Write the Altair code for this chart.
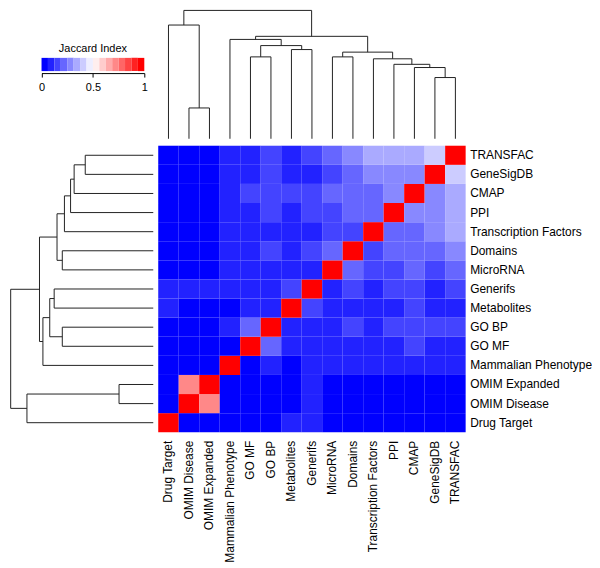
import altair as alt
import pandas as pd

# ---------------- data ----------------
names = ["Drug Target", "OMIM Disease", "OMIM Expanded", "Mammalian Phenotype",
         "GO MF", "GO BP", "Metabolites", "Generifs", "MicroRNA", "Domains",
         "Transcription Factors", "PPI", "CMAP", "GeneSigDB", "TRANSFAC"]

# Jaccard index matrix (rows/cols in the order of `names`)
j_drug_target   = [1.00, .02, .02, .02, .02, .02, .09, .09, .02, .02, .02, .02, .02, .02, .02]
j_omim_disease  = [.02, 1.00, .72, .02, .02, .02, .02, .09, .02, .02, .02, .02, .02, .02, .02]
j_omim_expanded = [.02, .72, 1.00, .02, .02, .02, .02, .09, .02, .02, .02, .02, .02, .02, .02]
j_mammalian     = [.02, .02, .02, 1.00, .02, .09, .02, .09, .09, .09, .09, .09, .09, .09, .09]
j_go_mf         = [.02, .02, .02, .02, 1.00, .22, .09, .09, .09, .09, .09, .09, .15, .09, .09]
j_go_bp         = [.02, .02, .02, .09, .22, 1.00, .09, .09, .09, .15, .09, .15, .15, .15, .15]
j_metabolites   = [.09, .02, .02, .02, .09, .09, 1.00, .15, .09, .09, .09, .09, .15, .09, .09]
j_generifs      = [.09, .09, .09, .09, .09, .09, .15, 1.00, .09, .15, .09, .15, .15, .09, .15]
j_microrna      = [.02, .02, .02, .09, .09, .09, .09, .09, 1.00, .22, .15, .15, .22, .15, .22]
j_domains       = [.02, .02, .02, .09, .09, .15, .09, .15, .22, 1.00, .15, .22, .22, .22, .28]
j_tf            = [.02, .02, .02, .09, .09, .09, .09, .09, .15, .15, 1.00, .22, .22, .28, .35]
j_ppi           = [.02, .02, .02, .09, .09, .15, .09, .15, .15, .22, .22, 1.00, .28, .28, .35]
j_cmap          = [.02, .02, .02, .09, .15, .15, .15, .15, .22, .22, .22, .28, 1.00, .28, .35]
j_genesigdb     = [.02, .02, .02, .09, .09, .15, .09, .09, .15, .22, .28, .28, .28, 1.00, .41]
j_transfac      = [.02, .02, .02, .09, .09, .15, .09, .15, .22, .28, .35, .35, .35, .41, 1.00]

matrix = [j_drug_target, j_omim_disease, j_omim_expanded, j_mammalian, j_go_mf,
          j_go_bp, j_metabolites, j_generifs, j_microrna, j_domains, j_tf, j_ppi,
          j_cmap, j_genesigdb, j_transfac]

# hclust-style merge table: negative = leaf (position+1), positive = earlier merge
merge_left   = [-2, -14, -13, -12, -11, -9, -5, 6, -7, 7, -4, 11, -1, 13]
merge_right  = [-3, -15, 2, 3, 4, -10, -6, 5, -8, 9, 10, 8, 1, 12]
merge_height = [0.24, 0.477, 0.555, 0.58, 0.623, 0.638, 0.638, 0.675, 0.695,
                0.726, 0.774, 0.798, 0.886, 1.0]

legend_ticks = [0, 0.5, 1]
n_bins = 16

# ---------------- styles ----------------
FONT = "Liberation Sans"


def ramp(i, n):
    t = i / (n - 1)
    if t <= 0.5:
        f = 2 * t
        r = g = round(255 * f)
        b = 255
    else:
        f = 2 * t - 1
        r = 255
        g = b = round(255 * (1 - f))
    return "#%02x%02x%02x" % (r, g, b)


colors = [ramp(i, n_bins) for i in range(n_bins)]
color_scale = alt.Scale(type="quantize", domain=[0, 1], range=colors)

# ---------------- tables ----------------
heat_df = pd.DataFrame([
    {"row": names[i], "col": names[j], "value": matrix[i][j]}
    for i in range(len(names)) for j in range(len(names))
])

mpos = []
segs = []


def node(k):
    if k < 0:
        return float(-k - 1), 0.0
    return mpos[k - 1], merge_height[k - 1]


for l, r, h in zip(merge_left, merge_right, merge_height):
    pl, hl = node(l)
    pr, hr = node(r)
    segs.append({"p1": pl, "p2": pl, "h1": hl, "h2": h})
    segs.append({"p1": pr, "p2": pr, "h1": hr, "h2": h})
    segs.append({"p1": pl, "p2": pr, "h1": h, "h2": h})
    mpos.append((pl + pr) / 2)
seg_df = pd.DataFrame(segs)

leg_df = pd.DataFrame({
    "start": [i / n_bins for i in range(n_bins)],
    "end": [(i + 1) / n_bins for i in range(n_bins)],
    "mid": [(i + 0.5) / n_bins for i in range(n_bins)],
})

# ---------------- sizes ----------------
HW, HH = 309, 288      # heatmap
DW, DH = 146, 130      # dendrogram thickness

pos_dom = [-0.5, len(names) - 0.5]

# ---------------- panels ----------------
heat = alt.Chart(heat_df).mark_rect().encode(
    x=alt.X("col:N", sort=names, title=None,
            scale=alt.Scale(paddingInner=0, paddingOuter=0),
            axis=alt.Axis(orient="bottom", labelAngle=-90, ticks=False, tickSize=0,
                          domain=False, labelPadding=8, labelFontSize=12,
                          labelFont=FONT, labelColor="black", labelLimit=300)),
    y=alt.Y("row:N", sort=names[::-1], title=None,
            scale=alt.Scale(paddingInner=0, paddingOuter=0),
            axis=alt.Axis(orient="right", ticks=False, tickSize=0, domain=False,
                          labelPadding=4, labelFontSize=12, labelFont=FONT,
                          labelColor="black", labelLimit=300)),
    color=alt.Color("value:Q", scale=color_scale, legend=None),
).properties(width=HW, height=HH)

top_dendro = alt.Chart(seg_df).mark_rule(color="#222222", strokeWidth=1).encode(
    x=alt.X("p1:Q", scale=alt.Scale(domain=pos_dom, nice=False, zero=False), axis=None),
    x2="p2:Q",
    y=alt.Y("h1:Q", scale=alt.Scale(domain=[0, 1], range=[DH, 1], nice=False, zero=False), axis=None),
    y2="h2:Q",
).properties(width=HW, height=DH)

left_dendro = alt.Chart(seg_df).mark_rule(color="#222222", strokeWidth=1).encode(
    y=alt.Y("p1:Q", scale=alt.Scale(domain=pos_dom, nice=False, zero=False), axis=None),
    y2="p2:Q",
    x=alt.X("h1:Q", scale=alt.Scale(domain=[0, 1], range=[DW, 2.7], nice=False, zero=False), axis=None),
    x2="h2:Q",
).properties(width=DW, height=HH)

leg_x = alt.Scale(domain=[0, 1], range=[33.7, 137], nice=False, zero=False)
legend_bar = alt.Chart(leg_df).mark_rect().encode(
    x=alt.X("start:Q", scale=leg_x, title=None,
            axis=alt.Axis(orient="bottom", values=legend_ticks, format="~g", offset=-(DH - 64),
                          tickSize=4, tickColor="black", domainColor="black",
                          labelFontSize=11, labelFont=FONT, labelColor="black",
                          labelPadding=4, labelFlush=False, grid=False)),
    x2="end:Q",
    y=alt.value(48.7),
    y2=alt.value(62),
    color=alt.Color("mid:Q", scale=color_scale, legend=None),
)
legend_title = alt.Chart(pd.DataFrame({"t": ["Jaccard Index"]})).mark_text(
    font=FONT, fontSize=11, color="black", baseline="alphabetic"
).encode(x=alt.datum(0.5), y=alt.value(43), text="t:N")
legend_panel = alt.layer(legend_bar, legend_title).properties(width=DW, height=DH)

top_row = alt.hconcat(legend_panel, top_dendro, spacing=5, bounds="flush")
bottom_row = alt.hconcat(left_dendro, heat, spacing=5, bounds="flush")

chart = alt.vconcat(top_row, bottom_row, spacing=6).properties(
    padding=0, background="white"
).configure_view(stroke=None)

chart.save("out.html", embed_options={"renderer": "svg", "actions": False})
